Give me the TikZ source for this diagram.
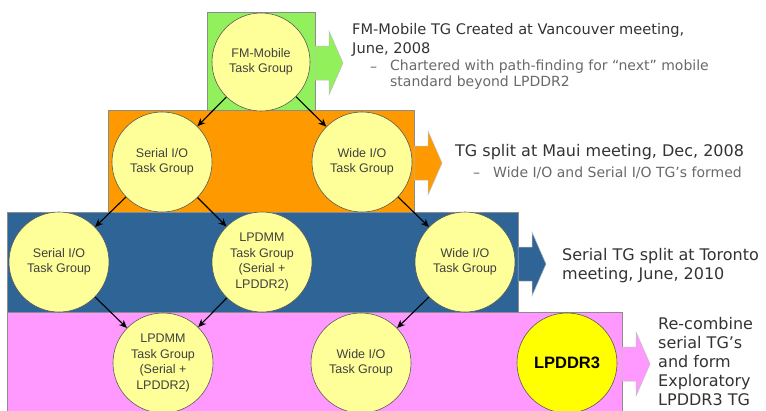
\documentclass[tikz,border=0pt]{standalone}
\usepackage{fontspec}
\usepackage{tikz}
\usetikzlibrary{arrows.meta, calc}
\newfontfamily\notefont{DejaVu Sans}
\newfontfamily\bubblefont{Liberation Sans}

\definecolor{layergreen}{RGB}{146,240,92}
\definecolor{layerorange}{RGB}{255,153,0}
\definecolor{layerblue}{RGB}{46,100,150}
\definecolor{layerpink}{RGB}{255,153,255}
\definecolor{bubble}{RGB}{255,255,153}
\definecolor{lpyellow}{RGB}{255,255,0}
\definecolor{notegray}{RGB}{51,51,51}
\definecolor{subgray}{RGB}{105,105,105}

\tikzset{
  tg/.style={circle, draw=black!65, line width=0.6pt, fill=bubble, minimum size=100pt, inner sep=0pt,
    align=center, text=black!75, font=\bubblefont\fontsize{12.5}{15.5}\selectfont},
  layer/.style={draw=black!45, line width=0.6pt},
  split/.style={black, line width=1.1pt, -{Stealth[length=8pt,width=7pt]}},
  note/.style={anchor=west, align=left, inner sep=0pt, text=notegray, font=\notefont\fontsize{16}{19}\selectfont},
  subnote/.style={anchor=west, align=left, inner sep=0pt, text=subgray, font=\notefont\fontsize{14}{16}\selectfont},
}

% block arrow: base x, centre y, colour
\newcommand{\layerarrow}[3]{%
  \draw[draw=black!25, line width=0.5pt, fill=#3] (#1,#2-17) -- ++(14,0) -- ++(0,-15) -- ++(14,32)
    -- ++(-14,32) -- ++(0,-15) -- ++(-14,0) -- cycle;}

\begin{document}
\begin{tikzpicture}[x=1pt, y=-1pt]
  \useasboundingbox (0,0) rectangle (766,410);

  % layers
  \draw[layer, fill=layergreen] (207,12) rectangle (315,110);
  \draw[layer, fill=layerorange] (108,110) rectangle (414,212);
  \draw[layer, fill=layerblue] (7,212) rectangle (518,312);
  \draw[layer, fill=layerpink] (7,312) rectangle (622,416);

  \layerarrow{315}{63}{layergreen}
  \layerarrow{414}{163}{layerorange}
  \layerarrow{518}{264}{layerblue}
  \layerarrow{622}{364}{layerpink}

  % task groups
  \node[tg, minimum size=98pt] (fm) at (261,62) {FM-Mobile\\Task Group};
  \node[tg] (serA) at (162,162) {Serial I/O\\Task Group};
  \node[tg] (wideA) at (362,162) {Wide I/O\\Task Group};
  \node[tg] (serB) at (59,262) {Serial I/O\\Task Group};
  \node[tg] (lpdmmB) at (262,262) {LPDMM\\Task Group\\(Serial +\\LPDDR2)};
  \node[tg] (wideB) at (465,262) {Wide I/O\\Task Group};
  \node[tg] (lpdmmC) at (163,363) {LPDMM\\Task Group\\(Serial +\\LPDDR2)};
  \node[tg] (wideC) at (361,363) {Wide I/O\\Task Group};
  \node[tg, fill=lpyellow, text=black, font=\bubblefont\bfseries\fontsize{16.5}{18}\selectfont] (lpddr) at (567,363) {LPDDR3};

  \draw[split] (fm) -- (serA);
  \draw[split] (fm) -- (wideA);
  \draw[split] (serA) -- (serB);
  \draw[split] (serA) -- (lpdmmB);
  \draw[split] (wideA) -- (wideB);
  \draw[split] (serB) -- (lpdmmC);
  \draw[split] (lpdmmB) -- (lpdmmC);
  \draw[split] (wideB) -- (wideC);

  % notes
  \node[note, font=\notefont\fontsize{14.6}{19}\selectfont] (vancouver) at (352,39.5)
    {FM-Mobile TG Created at Vancouver meeting,\\June, 2008};
  \node[subnote] (vancouverdash) at (370,69) {–};
  \node[subnote] (charter) at (390,75) {Chartered with path-finding for “next” mobile\\standard beyond LPDDR2};

  \node[note] (maui) at (455,152) {TG split at Maui meeting, Dec, 2008};
  \node[subnote] (mauidash) at (473,175) {–};
  \node[subnote] (formed) at (493,173) {Wide I/O and Serial I/O TG’s formed};

  \node[note] (toronto) at (562,265.5) {Serial TG split at Toronto\\meeting, June, 2010};

  \node[note] (recombine) at (658,362)
    {Re-combine\\serial TG’s\\and form\\Exploratory\\LPDDR3 TG};
\end{tikzpicture}
\end{document}
